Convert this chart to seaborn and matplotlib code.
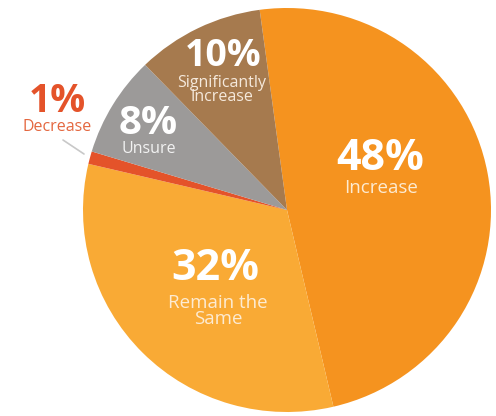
import matplotlib
matplotlib.use("Agg")
import matplotlib.pyplot as plt
import seaborn as sns

sns.set_theme(style="white")
plt.rcParams['font.family'] = ['Open Sans', 'DejaVu Sans']

categories = ["Increase", "Remain the\nSame", "Decrease", "Unsure", "Significantly\nIncrease"]
values = [48, 32, 1, 8, 10]
pct_labels = ["48%", "32%", "1%", "8%", "10%"]
colors = ["#F5931F", "#F9AA35", "#E4532A", "#9C9A99", "#A67A4E"]

W, H = 496, 416
fig = plt.figure(figsize=(W / 100, H / 100), dpi=100)
cx, cy, rx, ry = 287, 210, 204, 202
ax = fig.add_axes([(cx - rx) / W, (H - cy - ry) / H, 2 * rx / W, 2 * ry / H])
ax.pie(values, colors=colors, startangle=97.7, counterclock=False,
       wedgeprops=dict(linewidth=0))
ax.set_aspect("auto")
ax.set_xlim(-1, 1)
ax.set_ylim(-1, 1)
ax.axis("off")


def d(px, py):
    return (px - cx) / rx, (cy - py) / ry


# label positions (pixel centres)
pct_pos = [(380, 159), (215, 268), (57, 101), (148, 123), (223, 56)]
name_pos = [(381, 188), (218, 311), (57, 127), (149, 149), (222, 90)]
pct_sizes = [31, 31, 28, 29, 27]
name_sizes = [13.5, 13.5, 11.5, 11.5, 11.5]
pct_colors = ["white", "white", "#E4532A", "white", "white"]
name_colors = ["#FDEBD2", "#FDEBD2", "#E4673F", "#F2F2F2", "#F5E9DC"]

for i in range(len(values)):
    x, y = d(*pct_pos[i])
    ax.text(x, y, pct_labels[i], ha="center", va="center", fontsize=pct_sizes[i],
            fontweight="bold", color=pct_colors[i], clip_on=False)
    x, y = d(*name_pos[i])
    ax.text(x, y, categories[i], ha="center", va="center", fontsize=name_sizes[i],
            color=name_colors[i], linespacing=0.8, clip_on=False)

# leader line for the small slice
x0, y0 = d(63, 140)
x1, y1 = d(84, 154)
ax.plot([x0, x1], [y0, y1], color="#C8C8C8", lw=1.2, clip_on=False)

fig.savefig("out.png", dpi=100)
